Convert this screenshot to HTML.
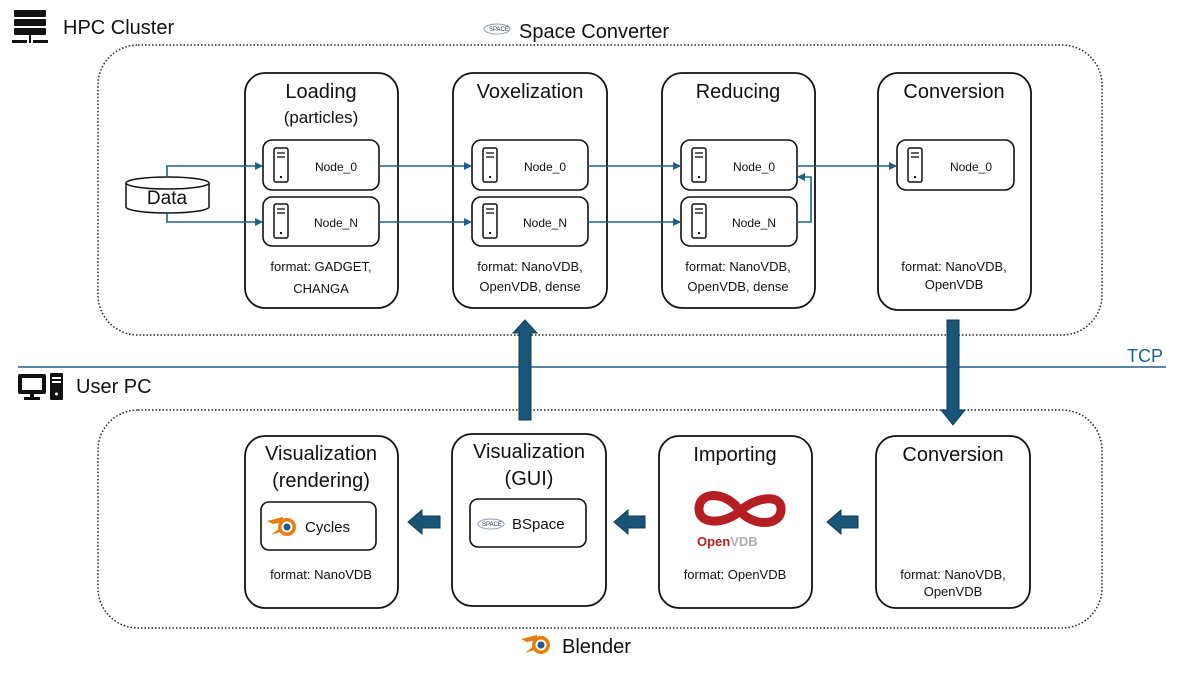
<!DOCTYPE html>
<html><head><meta charset="utf-8"><style>
html,body{margin:0;padding:0;background:#fff;}
svg{display:block;font-family:"Liberation Sans",sans-serif;}
</style></head><body>
<svg width="1200" height="675" viewBox="0 0 1200 675" xmlns="http://www.w3.org/2000/svg">
<defs>
<marker id="ah" markerWidth="8" markerHeight="8" refX="7" refY="4" orient="auto" markerUnits="userSpaceOnUse">
<path d="M0,0 L8,4 L0,8 z" fill="#1f5f8b"/></marker>
<g id="srv"><rect x="0" y="0" width="14" height="34" rx="2" fill="#fff" stroke="#111" stroke-width="1.5"/><line x1="3" y1="5" x2="11" y2="5" stroke="#111" stroke-width="1.3"/><line x1="3" y1="9" x2="11" y2="9" stroke="#111" stroke-width="1.3"/><rect x="6" y="28" width="2" height="2" fill="#111"/></g>
</defs>

<g fill="#111">
<rect x="14" y="10" width="32" height="7" rx="1"/><rect x="14" y="19" width="32" height="7" rx="1"/><rect x="14" y="28" width="32" height="7" rx="1"/>
<rect x="12" y="40" width="15" height="3"/><rect x="33" y="40" width="15" height="3"/><rect x="29" y="35" width="2" height="8"/>
</g>
<text x="63" y="34" font-size="20" fill="#111">HPC Cluster</text>

<ellipse cx="497" cy="29" rx="13" ry="5" fill="none" stroke="#8899bb" stroke-width="1"/>
<text x="489" y="31" font-size="6" fill="#335">SPACE</text>
<text x="519" y="38" font-size="20" fill="#111">Space Converter</text>

<rect x="98" y="45" width="1004" height="290" rx="40" fill="none" stroke="#222" stroke-width="1.5" stroke-dasharray="1.5 2"/>
<rect x="98" y="410" width="1004" height="218" rx="40" fill="none" stroke="#222" stroke-width="1.5" stroke-dasharray="1.5 2"/>

<line x1="18" y1="367" x2="1166" y2="367" stroke="#1f5f8b" stroke-width="1.5"/>
<text x="1127" y="362" font-size="18" fill="#1f5f8b">TCP</text>

<g fill="#111">
<rect x="18" y="374" width="28" height="20" rx="2"/><rect x="22" y="378" width="20" height="12" fill="#fff"/>
<rect x="30" y="394" width="4" height="4"/><rect x="24" y="397" width="16" height="3"/>
<rect x="50" y="373" width="13" height="27" rx="1"/>
</g>
<rect x="52" y="377" width="9" height="2" fill="#fff"/><rect x="52" y="381" width="9" height="2" fill="#fff"/><circle cx="56.5" cy="394" r="1.5" fill="#fff"/>
<text x="76" y="393" font-size="20" fill="#111">User PC</text>

<g fill="#fff" stroke="#111" stroke-width="1.8">
<rect x="245" y="73" width="153" height="235" rx="20"/>
<rect x="453" y="73" width="154" height="235" rx="20"/>
<rect x="662" y="73" width="153" height="235" rx="20"/>
<rect x="878" y="73" width="153" height="237" rx="20"/>
</g>
<g font-size="20" fill="#111" text-anchor="middle">
<text x="321" y="98">Loading</text>
<text x="321" y="123" font-size="17">(particles)</text>
<text x="530" y="98">Voxelization</text>
<text x="738" y="98">Reducing</text>
<text x="954" y="98">Conversion</text>
</g>

<g fill="#fff" stroke="#111" stroke-width="1.6">
<rect x="263" y="140" width="116" height="50" rx="9"/><rect x="263" y="197" width="116" height="49" rx="9"/>
<rect x="472" y="140" width="116" height="50" rx="9"/><rect x="472" y="197" width="116" height="49" rx="9"/>
<rect x="681" y="140" width="116" height="50" rx="9"/><rect x="681" y="197" width="116" height="49" rx="9"/>
<rect x="897" y="140" width="117" height="50" rx="9"/>
</g>
<use href="#srv" x="274" y="148"/><use href="#srv" x="274" y="204"/>
<use href="#srv" x="483" y="148"/><use href="#srv" x="483" y="204"/>
<use href="#srv" x="692" y="148"/><use href="#srv" x="692" y="204"/>
<use href="#srv" x="908" y="148"/>
<g font-size="12" fill="#111" text-anchor="middle">
<text x="336" y="171">Node_0</text><text x="336" y="227">Node_N</text>
<text x="545" y="171">Node_0</text><text x="545" y="227">Node_N</text>
<text x="754" y="171">Node_0</text><text x="754" y="227">Node_N</text>
<text x="971" y="171">Node_0</text>
</g>
<g font-size="13" fill="#111" text-anchor="middle">
<text x="321" y="271">format: GADGET,</text><text x="321" y="293">CHANGA</text>
<text x="530" y="271">format: NanoVDB,</text><text x="530" y="291">OpenVDB, dense</text>
<text x="738" y="271">format: NanoVDB,</text><text x="738" y="291">OpenVDB, dense</text>
<text x="954" y="271">format: NanoVDB,</text><text x="954" y="289">OpenVDB</text>
</g>

<path d="M126,183 L126,207 A41.5,6 0 0 0 209,207 L209,183" fill="#fff" stroke="#111" stroke-width="1.5"/>
<ellipse cx="167.5" cy="183" rx="41.5" ry="6" fill="#fff" stroke="#111" stroke-width="1.5"/>
<text x="167" y="204" font-size="19" fill="#111" text-anchor="middle">Data</text>

<g fill="none" stroke="#1f5f8b" stroke-width="1.6">
<path d="M167,177 L167,166 L262,166" marker-end="url(#ah)"/>
<path d="M167,213 L167,222 L262,222" marker-end="url(#ah)"/>
<path d="M379,166 L471,166" marker-end="url(#ah)"/>
<path d="M379,222 L471,222" marker-end="url(#ah)"/>
<path d="M588,166 L680,166" marker-end="url(#ah)"/>
<path d="M588,222 L680,222" marker-end="url(#ah)"/>
<path d="M797,166 L896,166" marker-end="url(#ah)"/>
<path d="M797,222 L811,222 L811,177 L798,177" marker-end="url(#ah)"/>
</g>

<path d="M519,420 L519,333 L513,333 L525,320 L537,333 L531,333 L531,420 Z" fill="#1a5578" stroke="#0f3b55" stroke-width="1"/>
<path d="M947,320 L959,320 L959,410 L965,410 L953,425 L941,410 L947,410 Z" fill="#1a5578" stroke="#0f3b55" stroke-width="1"/>

<g fill="#fff" stroke="#111" stroke-width="1.8">
<rect x="245" y="436" width="153" height="172" rx="20"/>
<rect x="452" y="434" width="154" height="172" rx="20"/>
<rect x="659" y="436" width="153" height="172" rx="20"/>
<rect x="876" y="436" width="154" height="172" rx="20"/>
</g>
<g font-size="20" fill="#111" text-anchor="middle">
<text x="321" y="460">Visualization</text><text x="321" y="487">(rendering)</text>
<text x="529" y="458">Visualization</text><text x="529" y="485">(GUI)</text>
<text x="735" y="461">Importing</text>
<text x="953" y="461">Conversion</text>
</g>
<g fill="#fff" stroke="#111" stroke-width="1.6">
<rect x="261" y="502" width="115" height="48" rx="8"/>
<rect x="470" y="499" width="116" height="48" rx="8"/>
</g>
<g transform="translate(285,527)">
<path d="M-18,-6 L-2,-10 L-2,-5 L-12,-3 Z" fill="#e87d0d"/>
<path d="M-14,8 L-4,0 L-2,4 Z" fill="#e87d0d"/>
<circle cx="2" cy="0" r="9" fill="#e87d0d"/><circle cx="2" cy="0" r="5.5" fill="#fff"/><circle cx="2" cy="0" r="3.5" fill="#265787"/>
</g>
<text x="305" y="532" font-size="15" fill="#111">Cycles</text>
<ellipse cx="491" cy="524" rx="13" ry="5" fill="none" stroke="#8899bb" stroke-width="1"/>
<text x="482" y="526" font-size="6" fill="#335">SPACE</text>
<text x="512" y="529" font-size="15" fill="#111">BSpace</text>

<path d="M740,511 C728,492 700,490 699,508 C698,526 726,524 740,511 C754,498 782,492 781,510 C780,527 752,526 740,511 Z" fill="none" stroke="#b51f24" stroke-width="9"/>
<text x="697" y="546" font-size="13" font-weight="bold" fill="#b51f24">Open<tspan fill="#b0b0b0">VDB</tspan></text>

<g font-size="13" fill="#111" text-anchor="middle">
<text x="321" y="579">format: NanoVDB</text>
<text x="735" y="579">format: OpenVDB</text>
<text x="953" y="579">format: NanoVDB,</text><text x="953" y="596">OpenVDB</text>
</g>

<g fill="#1a5578" stroke="#0f3b55" stroke-width="1">
<path d="M440,516 L422,516 L422,510 L408,522 L422,534 L422,528 L440,528 Z"/>
<path d="M645,516 L628,516 L628,510 L614,522 L628,534 L628,528 L645,528 Z"/>
<path d="M858,516 L841,516 L841,510 L827,522 L841,534 L841,528 L858,528 Z"/>
</g>

<g transform="translate(539,645)">
<path d="M-18,-6 L-2,-10 L-2,-5 L-12,-3 Z" fill="#e87d0d"/>
<path d="M-14,8 L-4,0 L-2,4 Z" fill="#e87d0d"/>
<circle cx="2" cy="0" r="9" fill="#e87d0d"/><circle cx="2" cy="0" r="5.5" fill="#fff"/><circle cx="2" cy="0" r="3.5" fill="#265787"/>
</g>
<text x="562" y="653" font-size="20" fill="#111">Blender</text>
</svg>
</body></html>
